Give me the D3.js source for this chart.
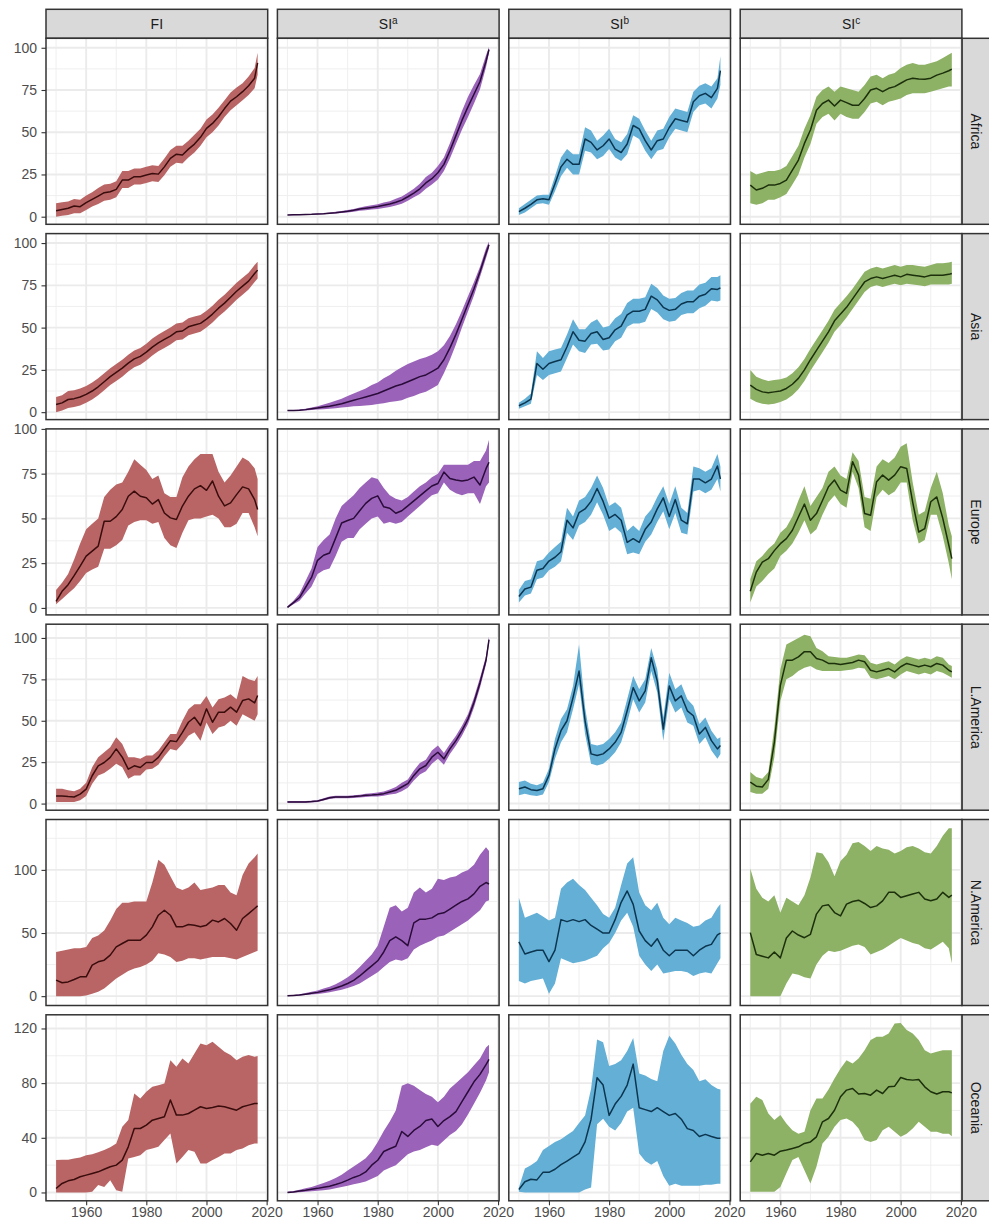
<!DOCTYPE html>
<html><head><meta charset="utf-8">
<script src="https://cdn.jsdelivr.net/npm/d3@7/dist/d3.min.js"></script>
<style>
body{margin:0;background:#fff;}
svg text{font-family:"Liberation Sans",Arial,Helvetica,sans-serif;}
</style>
</head><body>
<svg id="chart" width="989" height="1219"></svg>
<script>
// ---------- categories / ticks ----------
const years = [1950,1952,1954,1956,1958,1960,1962,1964,1966,1968,1970,1972,1974,1976,1978,1980,1982,1984,1986,1988,1990,1992,1994,1996,1998,2000,2002,2004,2006,2008,2010,2012,2014,2016,2017];
const columnBase = ["FI","SI","SI","SI"];
const columnSup = ["","a","b","c"];
const regions = ["Africa","Asia","Europe","L.America","N.America","Oceania"];
const xTicks = [1960,1980,2000,2020];
const xMinor = [1950,1970,1990,2010];
const yTicksByRow = [[0,25,50,75,100],[0,25,50,75,100],[0,25,50,75,100],[0,25,50,75,100],[0,50,100],[0,40,80,120]];
const yLimits = [[-4.5,105.6],[-4.4,105.6],[-3.9,100],[-4,108.3],[-7.4,139.9],[-6.1,130]];

// ---------- Africa ----------
const africa_FI_mid = [3.5,4.3,5,6.3,5.9,8.3,10.3,12.2,14.2,14.8,16.2,21.7,21.7,23.7,23.7,24.7,25.6,25.2,29.5,34.5,37,36.5,40,43,47,52.3,55.2,59.2,64,68.4,71,74,77.5,82,91];
const africa_FI_lo = [0,0.5,1,2,2,4,6,7.5,9.5,10,11.5,17,17,19,19,20,21,20.5,24.5,29.5,32,31.5,35,38,42,47,50,54,59,63,66,69,72,76,84];
const africa_FI_hi = [8,8.5,9,10.5,10,12.5,14.5,17,19,19.5,21,27,27,28.5,28.5,29.5,30.5,30,34.5,39.5,42,42,45,48.5,52,57.5,60.5,64.5,69,73.5,76.5,79,83,88,97];
const africa_SIa_mid = [1,1.1,1.2,1.3,1.4,1.6,1.8,2.1,2.4,2.8,3.2,3.8,4.5,5,5.5,6,6.8,7.5,8.6,9.8,11.8,14,16.5,20,22.5,26,31,39,48,57,65,72.5,80,92,99];
const africa_SIa_lo = [0.8,0.9,1,1.1,1.2,1.3,1.5,1.7,1.9,2.2,2.5,3,3.5,3.8,4.2,4.6,5.2,5.8,6.6,7.6,9.4,11.5,13.5,16.5,19,22,27,34.5,43,51.5,59,67,75.5,88.5,97];
const africa_SIa_hi = [1.2,1.3,1.4,1.5,1.6,1.9,2.1,2.5,2.9,3.4,3.9,4.6,5.5,6.2,6.8,7.4,8.4,9.2,10.6,12,14.2,16.5,19.5,23.5,26,30,35,43.5,53,62.5,71,78,84.5,95.5,100.5];
const africa_SIb_mid = [3,5,7.3,10,10.6,10,19.5,29.5,34,31,31,46,44,39.5,42,46,40,38,43,54,52,45,39.5,45,46,52.8,58,57,56,68,71.6,73,70.5,76,86.5];
const africa_SIb_lo = [1,2.5,5,7.5,8,7,15,24,29,25,25,39,38,34,36,40,35,33,37,48,46,39,34,39,40,47,52,51,50,62,66,67,64,70,78];
const africa_SIb_hi = [5,7.5,10,12.5,13,13,24,35,40,37,37,53,51,45,48,52,46,44,49,60,58,51,45,51,52,59,64,63,62,74,77.5,79,77,82,95];
const africa_SIc_mid = [18.7,15.8,16.8,18.7,18.7,19.7,21.7,27.6,33.5,43.4,51.3,63,67,69,65.5,69,67.5,66,65.9,70,75,76,74,76,77,79,81,82,81.5,81.3,82,83.8,85,86.4,87.4];
const africa_SIc_lo = [8,7,8,10,10,11.5,13.5,19,25,35,43,55,59,61,57,61,59,58,58,62,67,68,66,68,69,70,72,73,73,73,74,75,76,77,77];
const africa_SIc_hi = [27,25,26,27,27,28,30,36,42,52,60,71,75,77,74,77,76,75,74,78,83,84,82,84,85,88,90,91,90,90,91,92,94,96,97];

// ---------- Asia ----------
const asia_FI_mid = [4.5,5.5,7.5,8,9,10.5,12.5,15,18,21,23.5,26,29,31.5,33,35.5,38.5,41,43,45,47.5,48,50.5,51.5,52.5,55,58,61.5,64.5,68,71.5,74.5,77.5,82,84];
const asia_FI_lo = [0,1,2.5,3,4,5.5,7.5,10,13,16,18.5,21,24,26.5,28,30.5,33.5,36,38,40,42.5,43,45.5,46.5,47.5,50,53,56.5,59.5,63,66.5,69.5,72.5,77,79];
const asia_FI_hi = [9,10,12.5,13,14,15.5,17.5,20,23,26,28.5,31,34,36.5,38,40.5,43.5,46,48,50,52.5,53,55.5,56.5,57.5,60,63,66.5,69.5,73,76.5,79.5,82.5,87,89];
const asia_SIa_mid = [1,1,1.2,1.5,2,2.5,3,3.5,4.2,5,6,7,8,9,10,11,12.5,14,15.5,16.5,18,19.5,21,22,24,26,31,38,46,55,64,73,83,94,99];
const asia_SIa_lo = [0.8,0.8,0.9,1,1.3,1.5,1.7,2,2.3,2.7,3,3.5,3.7,4,4.2,4.8,5.3,6,6.5,7,8.5,9.5,11,12,14,16,23,31,40,50,59.5,69,80,91,97];
const asia_SIa_hi = [1.2,1.3,1.6,2,2.7,3.5,4.5,5.5,6.8,8,9.5,11,12.5,14,16,17.5,20,22,24.5,26.5,28.5,30,31.5,32.5,34,36,39.5,45,52,60,68.5,77,86,97,101];
const asia_SIb_mid = [3.8,5.5,7.7,28.8,25.4,28.8,30,31,38.7,47.6,42.5,42,46.5,47.6,43,44,48.7,50.9,57.5,59.7,59.7,60.8,68.6,66.4,62,60.2,60.8,64,65.3,65.3,68.6,69.7,73,72.6,73.5];
const asia_SIb_lo = [2,3.5,5,22,19,22,23,24,32,40,36,35,40,40.5,36.5,37,42,44,50.5,52.5,52.5,53.5,61,59,55,53.5,54,57.5,58.5,58.5,61.5,63,66,65.5,66];
const asia_SIb_hi = [5.5,8,11,36,32,36,37,38,46,55,49,49,53,55,50,51,55.5,58,64.5,67,67,68,76,73.5,69,67,67.5,70.5,72,72,75.5,76.5,80,80,81];
const asia_SIc_mid = [16,13.5,12,11.5,12,12.5,14,16.5,20,25,31,36.5,42,47.5,54,58,62,67,72,77,79,80,79,80,81,80,81.5,81,80.5,80,81,81,81,81.5,82];
const asia_SIc_lo = [8,6,5,4.5,5,6,7.5,10,13.5,18.5,24.5,30,35.5,41,47.5,51.5,56,61,66,71,74,75,74,75,76,75,76,75.5,75,74.5,75.5,75.5,75.5,75.5,76];
const asia_SIc_hi = [25,21,19.5,18.5,19,19.5,20.5,23,26.5,31.5,37.5,43,48.5,54,60.5,64.5,68.5,73,78,83,85,86,85,86,87,86,87,87,86.5,86,87,88,88,88.5,89];

// ---------- Europe ----------
const europe_FI_mid = [3.7,9.3,13,18,23.3,28.9,31.7,34.5,48.4,48.4,51,55,62.4,65.2,62.4,61.5,58,60.5,53,50.3,49.4,56.9,62.4,66.5,68.3,65.7,70.9,62.4,57,58.7,63.3,67.6,66.5,60.5,55];
const europe_FI_lo = [2,5,8,11,15,19.5,21.5,23,33,33,35,38,46,48,49,49,47,48,39,35,33.5,42,49,50,50,51,52,50,45,45,47,53,53,45,40];
const europe_FI_hi = [10,14,19,27,36,44,47,50,62,66,69,70,76,83,80,77,72,74,64,62,62,73,79,83,86,86,86,76,70,74,79,84,82,78,72];
const europe_SIa_mid = [0.3,3,5.8,11.4,17,26.6,29.4,30.7,39,47.4,48.8,50,54.3,58.4,61.2,62.6,56.5,55.7,52.9,54.3,57,59.8,62.6,65.4,68.1,69.5,75.9,72.3,71.5,70.9,71.5,73.1,68.7,77.8,81.4];
const europe_SIa_lo = [0,2,4,8,12,19,21,22,29,37,39,39,44,47,50,51,47,48,47,48,51,54,57,60,63,64,70,66,64,63,64,64,58,68,70];
const europe_SIa_hi = [1,4,8,15,22,34,38,41,50,57,60,63,67,70,73,72,67,63,61,60,62,65,68,70,73,75,80,80,80,80,80,82,82,88,94];
const europe_SIb_mid = [6.4,10.6,11.6,21,22,26.2,28.3,31.4,49,44.7,53.2,55.3,59.5,66.7,59.5,50.1,52.2,49,36.6,38.7,36.6,43.9,48,55.3,61.5,51.1,60.5,49,47,72,72,69.9,72,79.3,72];
const europe_SIb_lo = [3,7,8,16,17,21,23,26,42,38,46,48,52,59,52,43,45,42,30,31,30,37,41,48,54,44,53,42,41,65,66,64,66,72,65];
const europe_SIb_hi = [10,15,16,26,27,31,34,37,56,51,60,62,67,74,67,57,59,56,43,46,43,51,55,62,68,58,68,56,53,79,78,76,78,86,79];
const europe_SIc_mid = [9.3,20,25.6,27.5,32,35.9,38.7,43.4,50.8,58,49,52.7,60,67.7,71.4,65.8,64,81.7,74.2,52.7,51.8,70.5,74.2,71.4,74.2,78.9,77.9,59,42.4,44.3,59.3,62,50,35,27.5];
const europe_SIc_lo = [3,12,15,19,22,29,32,36,42,49,41,44,52,59,63,58,56,76,67,45,43,62,66,63,65,70,70,49,36,38,52,52,40,25,16];
const europe_SIc_hi = [16,26,29,33,36,42,45,51,60,68,57,62,67,76,79,74,72,87,82,62,61,79,83,81,84,90,92,70,52,54,67,76,64,46,40];

// ---------- L.America ----------
const lamerica_FI_mid = [4.6,4.6,4.2,4,5.7,8.7,16.8,22.8,24.8,27.9,33,28,20.8,22.8,21.8,24.8,24.8,27.9,33,38,37.4,43,49.1,52.1,47.1,57.2,49.1,55.2,55.2,58.2,55.2,62.2,63.2,60.8,65.3];
const lamerica_FI_lo = [1,1,1,1,2,4.5,12,17,18.5,21,24,22,15,17,17,20.5,21,23.5,28.5,33,32,36,41,43,38,49,42,46,47,50,47,54,52,50,54];
const lamerica_FI_hi = [9,9,8,7.5,9,12.5,22,28,31,34,40,36,28,28,27,29,29,32,37,42,42,50,57,60,60,65,58,63,64,66,63,77,75,74,77];
const lamerica_SIa_mid = [1,1,1,1,1.2,1.5,2.5,3.5,4,4,4,4.2,4.5,5,5.2,5.5,6,7,8,10,12,17,21,23,28,31,27,33,38,44,51,61,73,86.5,99];
const lamerica_SIa_lo = [0.5,0.5,0.5,0.5,0.7,1,1.8,2.7,3.2,3.2,3.2,3.4,3.7,4,4.2,4.3,4.7,5.5,6,7.5,9.5,14,17.5,19.5,24,27,23.5,30,35,41,48,58,70,84,97];
const lamerica_SIa_hi = [1.5,1.5,1.5,1.5,1.7,2,3.2,4.3,4.8,4.8,4.8,5,5.3,6,6.2,6.7,7.3,8.5,10,12.5,14.5,20,24.5,26.5,32,35,30.5,36,41,47,54,64,76,89,101];
const lamerica_SIb_mid = [9,10,8.4,7.9,9,17,33,44,50,64,80,50,30,29,30,33,37,43,56,70,62,68,88,74,45,71,62,65,56,53,42,46,38,33,35];
const lamerica_SIb_lo = [5,6,5,4.5,5.5,13,27,37,43,57,72,42,24,23,24,27,31,37,49,63,55,61,80,67,38,63,55,58,49,47,36,40,32,27,30];
const lamerica_SIb_hi = [13,14,12,11,12.5,21,39,51,57,71,96,58,36,35,36,39,43,49,63,77,69,75,94,81,52,79,69,72,63,59,48,52,44,39,40];
const lamerica_SIc_mid = [13,10.5,10,14.6,37,71.4,86.6,86.6,88.6,91.7,91.7,87.6,86.6,84.6,84.6,84,84.6,85.2,86.6,85.6,80.5,79.5,80.5,81.5,79.5,82.6,84.6,83.6,82.6,83.6,82.6,84.6,83.6,80.5,79.5];
const lamerica_SIc_lo = [7,6,6,9,28,62,75,77,80,82,83,81,80,80,80,80,80.5,81,82,81.5,76,75,76,77,75,78,80,79,78,79,78,80,79,77,76];
const lamerica_SIc_hi = [19,16,15,19,46,81,96,98,100,102,101,94,92,89,88.5,88,88,89,90,89.5,85,84,85,86,84,87,89,88,87,88,87,89,88,84,83];

// ---------- N.America ----------
const namerica_FI_mid = [12.7,10.6,11.3,13.2,15.3,15.3,24.5,27.2,28.5,32.5,39,41.7,44.3,44.3,44.3,48.3,54.9,64.1,68,64.1,54.9,54.9,56.7,56.2,54.9,56.2,60.2,58.8,61.5,57.5,52.2,61.5,65.4,69.4,71.5];
const namerica_FI_lo = [0,0,0,0,0,0.5,2,3.5,6,10,14,17,20,22,23,25,28,34,33,31,27,28,30,30,29,30,31,31,31,30,29,31,33,35,36];
const namerica_FI_hi = [35,36,37,38,38,39,46,48,52,60,69,74,74,75,75,75,90,108,104,95,86,84,86,90,84,85,86,88,88,82,80,96,105,110,113];
const namerica_SIa_mid = [0.3,0.6,1,1.6,2.3,3,4,5,6.5,8,10,12.5,16,20,24,28,35,44,47,44,40,58,61,61,62,65,66,69,72,75,77,81,87,90,88.8];
const namerica_SIa_lo = [0,0.3,0.6,1,1.3,1.8,2.3,3,4,5,6.5,8,10,13,16,19,23,27,29,28,30,37,40,42,44,47,48,51,54,57,60,64,68,75,76];
const namerica_SIa_hi = [0.5,1,1.5,2.5,3.5,4.5,6,7.5,9.5,12,15,18.5,23,28,33,40,55,70,72,67,70,82,86,82,85,93,92,94,95,98,100,104,112,118,115];
const namerica_SIb_mid = [43,33.4,35,36.4,36.4,27.4,36.4,60.6,59,60.6,59,60.6,56,53,50,50,60.6,74.3,83.3,72.7,51.6,44,39.5,45.5,36.4,32,36.4,36.4,36.4,32,36.4,39.5,41,48.5,50];
const namerica_SIb_lo = [12,10,12,13,14,2,10,30,28,26,27,28,30,32,38,42,50,60,66,55,32,25,20,25,18,19,20,20,19,16,18,19,18,26,30];
const namerica_SIb_hi = [78,62,64,66,63,60,62,85,90,93,88,84,78,72,65,62,70,88,105,110,82,72,68,74,62,57,62,60,58,55,56,60,62,70,73];
const namerica_SIc_mid = [50.3,33,31.6,30.3,35,30.3,46,51.6,48.4,46.3,49,65,71.5,72.3,66.2,63.6,72.9,75,76,73.4,70.2,71.5,75.5,82.2,82.2,78.2,79.5,80.9,82.2,76.9,75.5,76.9,82.2,78.2,80];
const namerica_SIc_lo = [0,0,0,0,0,0,10,18,17,15,14,25,32,36,35,36,38,40,41,39,33,35,37,40,43,46,44,42,41,38,37,40,43,38,26];
const namerica_SIc_hi = [101,85,78,75,80,66,78,75,72,80,94,114,113,106,95,107,112,121,122,119,115,119,117,116,113,115,118,119,117,114,113,119,127,133,133];

// ---------- Oceania ----------
const oceania_FI_mid = [2.9,6.6,8.5,9.5,11.5,12.7,13.9,15.1,17,18.8,20,23.7,33.4,46.8,46.8,49.3,52.9,54.1,55.4,67.6,56.6,56.6,57.8,60.2,62.7,61.5,62.2,63.2,62.7,61.5,60.2,62.7,63.9,65.1,65.1];
const oceania_FI_lo = [0,0,0,0,0,0,0.5,5.4,4,9,1.7,0.5,24.9,26,27.3,31,32.2,33.4,38.3,43.2,21.2,26,31,29.8,21.2,21.2,23.7,26,28.5,28.5,31,32.2,34.6,35.9,35.9];
const oceania_FI_hi = [23.7,24,24,24.9,25.5,27.3,28,29.5,31,33,35.9,48,53,72.4,68.8,73.7,77.3,78.5,79.8,96.8,92,98,94.4,101.7,109,107.8,110.2,106.6,103,100.5,96.8,99.3,100.5,99.3,99.8];
const oceania_SIa_mid = [0,0.4,1,1.6,2.3,3,3.8,4.6,5.8,7.2,9,11,12.5,15,20,23.6,30,32,33.8,44.6,41,45.4,48.3,52.6,53.7,48.3,52.6,55.5,59.2,66.4,73.7,81,86.4,93.6,97.3];
const oceania_SIa_lo = [0,0,0.2,0.5,0.8,1.2,1.6,2.2,3,4,5,6,7,8,10,12,16,18,20,24,28,30,31,33,35,34,38,42,45,50,57,65,73,82,88];
const oceania_SIa_hi = [0.5,1,2,3,4,5.5,7,8.5,10.5,13,16,19,22,25,30,37,45,52,60,78,80,78,75,72,70,66,70,76,80,84,88,93,98,106,108];
const oceania_SIb_mid = [2.2,7.8,9.7,9.2,14.7,14.7,17,20.3,23,25.8,28.6,37,53.6,84,78.6,56.4,64.7,70.3,78.6,93.9,62,60.6,59.2,62,59.2,56.4,57.8,53.6,46.7,45.3,41,42.5,41,39.7,39.7];
const oceania_SIb_lo = [0.5,0,0,0,0,0,0,0,0,0,0,2.2,3.6,50,54,48,45.3,50.8,59.2,62,28.6,23,20.3,23,12,5,6.4,5,5,5,5,5.6,5.6,6.4,6.4];
const oceania_SIb_hi = [3.6,17.5,20,23,31,34,37,39,42,45,50.8,56.4,75.8,112,110,92.5,94,96.7,103.6,113,87,85.6,83,81.4,103.6,114.7,109,100.8,94,89.7,81.4,82.8,78.6,75.8,75.3];
const oceania_SIc_mid = [22.4,28.5,27.3,28.5,27.3,30.2,31,32.2,33.4,35.9,37,40.7,51.7,54.1,60.2,70,74.9,76.1,72,72.4,71.2,74.9,72.4,77.3,77.8,84.1,82.7,82.2,82.7,77.3,73.7,72,73.7,73.7,72.9];
const oceania_SIc_lo = [0.5,0.5,0.5,0.5,0.5,4,14,23.7,26,16.3,6.6,18.8,35.9,40.7,48,53,54.1,51.7,46.8,38.3,37,38.3,45.6,48,44.4,40.7,43,46.8,51.7,48,44.4,44.4,43,43,41.2];
const oceania_SIc_hi = [65,70,67.6,57.8,53,56.6,50.5,45.6,43,44.4,60.2,68.8,68.8,75.4,83.4,90.7,96.8,94.4,98,104,111.5,114,114,116.3,123.6,124,118.8,116.3,111.5,104,101.7,103,104,104,104];

// ---------- table built from the arrays ----------
const grid = [
  [[africa_FI_mid,africa_FI_lo,africa_FI_hi],[africa_SIa_mid,africa_SIa_lo,africa_SIa_hi],[africa_SIb_mid,africa_SIb_lo,africa_SIb_hi],[africa_SIc_mid,africa_SIc_lo,africa_SIc_hi]],
  [[asia_FI_mid,asia_FI_lo,asia_FI_hi],[asia_SIa_mid,asia_SIa_lo,asia_SIa_hi],[asia_SIb_mid,asia_SIb_lo,asia_SIb_hi],[asia_SIc_mid,asia_SIc_lo,asia_SIc_hi]],
  [[europe_FI_mid,europe_FI_lo,europe_FI_hi],[europe_SIa_mid,europe_SIa_lo,europe_SIa_hi],[europe_SIb_mid,europe_SIb_lo,europe_SIb_hi],[europe_SIc_mid,europe_SIc_lo,europe_SIc_hi]],
  [[lamerica_FI_mid,lamerica_FI_lo,lamerica_FI_hi],[lamerica_SIa_mid,lamerica_SIa_lo,lamerica_SIa_hi],[lamerica_SIb_mid,lamerica_SIb_lo,lamerica_SIb_hi],[lamerica_SIc_mid,lamerica_SIc_lo,lamerica_SIc_hi]],
  [[namerica_FI_mid,namerica_FI_lo,namerica_FI_hi],[namerica_SIa_mid,namerica_SIa_lo,namerica_SIa_hi],[namerica_SIb_mid,namerica_SIb_lo,namerica_SIb_hi],[namerica_SIc_mid,namerica_SIc_lo,namerica_SIc_hi]],
  [[oceania_FI_mid,oceania_FI_lo,oceania_FI_hi],[oceania_SIa_mid,oceania_SIa_lo,oceania_SIa_hi],[oceania_SIb_mid,oceania_SIb_lo,oceania_SIb_hi],[oceania_SIc_mid,oceania_SIc_lo,oceania_SIc_hi]]
];

// ---------- styles ----------
const fillColors = ["#b96565","#9a63b9","#63afd5","#8db165"];
const lineColors = ["#3a0c0c","#2a0b3a","#0c3550","#1c300c"];
const L0 = 46, PW = 221.7, PGAP = 9.7, T0 = 38.3, PH = 186, VGAP = 9.3, STRIP = 29;

const svg = d3.select("#chart");
svg.append("rect").attr("width",989).attr("height",1219).attr("fill","#fff");

const x = d3.scaleLinear().domain([1946.65, 2020.35]).range([0, PW]);
const defs = svg.append("defs");
defs.append("clipPath").attr("id","pclip").append("rect").attr("width",PW).attr("height",PH);

// top strips
columnBase.forEach((base, c) => {
  const gx = L0 + c*(PW+PGAP);
  const s = svg.append("g").attr("transform",`translate(${gx},${T0-STRIP})`);
  s.append("rect").attr("width",PW).attr("height",STRIP).attr("fill","#d9d9d9").attr("stroke","#333").attr("stroke-width",1.5);
  const t = s.append("text").attr("x",PW/2).attr("y",STRIP/2+5).attr("text-anchor","middle")
    .attr("font-size",14).attr("fill","#1a1a1a");
  t.append("tspan").text(base);
  if (columnSup[c]) t.append("tspan").attr("dy",-5).attr("font-size",10).text(columnSup[c]);
});

regions.forEach((reg, r) => {
  const gy = T0 + r*(PH+VGAP);
  const y = d3.scaleLinear().domain(yLimits[r]).range([PH, 0]);
  const ticks = yTicksByRow[r];
  const minorY = d3.range(ticks.length+1).map(i => (i - 0.5) * (ticks[1]-ticks[0]))
    .filter(v => v > yLimits[r][0] && v < yLimits[r][1]);

  // right strip
  const rs = svg.append("g").attr("transform",`translate(${L0 + 3*(PW+PGAP) + PW},${gy})`);
  rs.append("rect").attr("width",STRIP).attr("height",PH).attr("fill","#d9d9d9").attr("stroke","#333").attr("stroke-width",1.5);
  rs.append("text").attr("transform",`translate(${STRIP/2-5},${PH/2}) rotate(90)`).attr("text-anchor","middle")
    .attr("font-size",14).attr("fill","#1a1a1a").text(reg);

  grid[r].forEach((series, c) => {
    const gx = L0 + c*(PW+PGAP);
    const g = svg.append("g").attr("transform",`translate(${gx},${gy})`);
    g.append("rect").attr("width",PW).attr("height",PH).attr("fill","#fff");
    const gl = g.append("g");
    // minor grid
    gl.selectAll(".mx").data(xMinor).join("line").attr("x1",d=>x(d)).attr("x2",d=>x(d)).attr("y1",0).attr("y2",PH)
      .attr("stroke","#ededed").attr("stroke-width",0.9);
    gl.selectAll(".my").data(minorY).join("line").attr("y1",d=>y(d)).attr("y2",d=>y(d)).attr("x1",0).attr("x2",PW)
      .attr("stroke","#ededed").attr("stroke-width",0.9);
    // major grid
    gl.selectAll(".Mx").data(xTicks).join("line").attr("x1",d=>x(d)).attr("x2",d=>x(d)).attr("y1",0).attr("y2",PH)
      .attr("stroke","#ebebeb").attr("stroke-width",1.9);
    gl.selectAll(".My").data(ticks).join("line").attr("y1",d=>y(d)).attr("y2",d=>y(d)).attr("x1",0).attr("x2",PW)
      .attr("stroke","#ebebeb").attr("stroke-width",1.9);

    const [mid, lo, hi] = series;
    const pts = years.map((yr,i)=>({yr, m:mid[i], lo:lo[i], hi:hi[i]}));
    const pg = g.append("g").attr("clip-path","url(#pclip)");
    pg.append("path").datum(pts)
      .attr("d", d3.area().x(d=>x(d.yr)).y0(d=>y(d.lo)).y1(d=>y(d.hi)))
      .attr("fill", fillColors[c]);
    pg.append("path").datum(pts)
      .attr("d", d3.line().x(d=>x(d.yr)).y(d=>y(d.m)))
      .attr("fill","none").attr("stroke",lineColors[c]).attr("stroke-width",1.5).attr("stroke-linejoin","round");

    g.append("rect").attr("width",PW).attr("height",PH).attr("fill","none").attr("stroke","#333").attr("stroke-width",1.5);

    if (c === 0) {
      const ax = g.append("g").call(d3.axisLeft(y).tickValues(ticks).tickSize(4.5).tickPadding(4.5));
      ax.select(".domain").remove();
      ax.selectAll("line").attr("stroke","#333").attr("stroke-width",1.1);
      ax.selectAll("text").attr("font-size",14).attr("fill","#4d4d4d").attr("font-family","Liberation Sans, Arial, sans-serif");
    }
    if (r === regions.length-1) {
      const ax = g.append("g").attr("transform",`translate(0,${PH})`)
        .call(d3.axisBottom(x).tickValues(xTicks).tickFormat(d3.format("d")).tickSize(4.5).tickPadding(2));
      ax.select(".domain").remove();
      ax.selectAll("line").attr("stroke","#333").attr("stroke-width",1.1);
      ax.selectAll("text").attr("font-size",14).attr("fill","#4d4d4d").attr("font-family","Liberation Sans, Arial, sans-serif");
    }
  });
});
</script>
</body></html>
